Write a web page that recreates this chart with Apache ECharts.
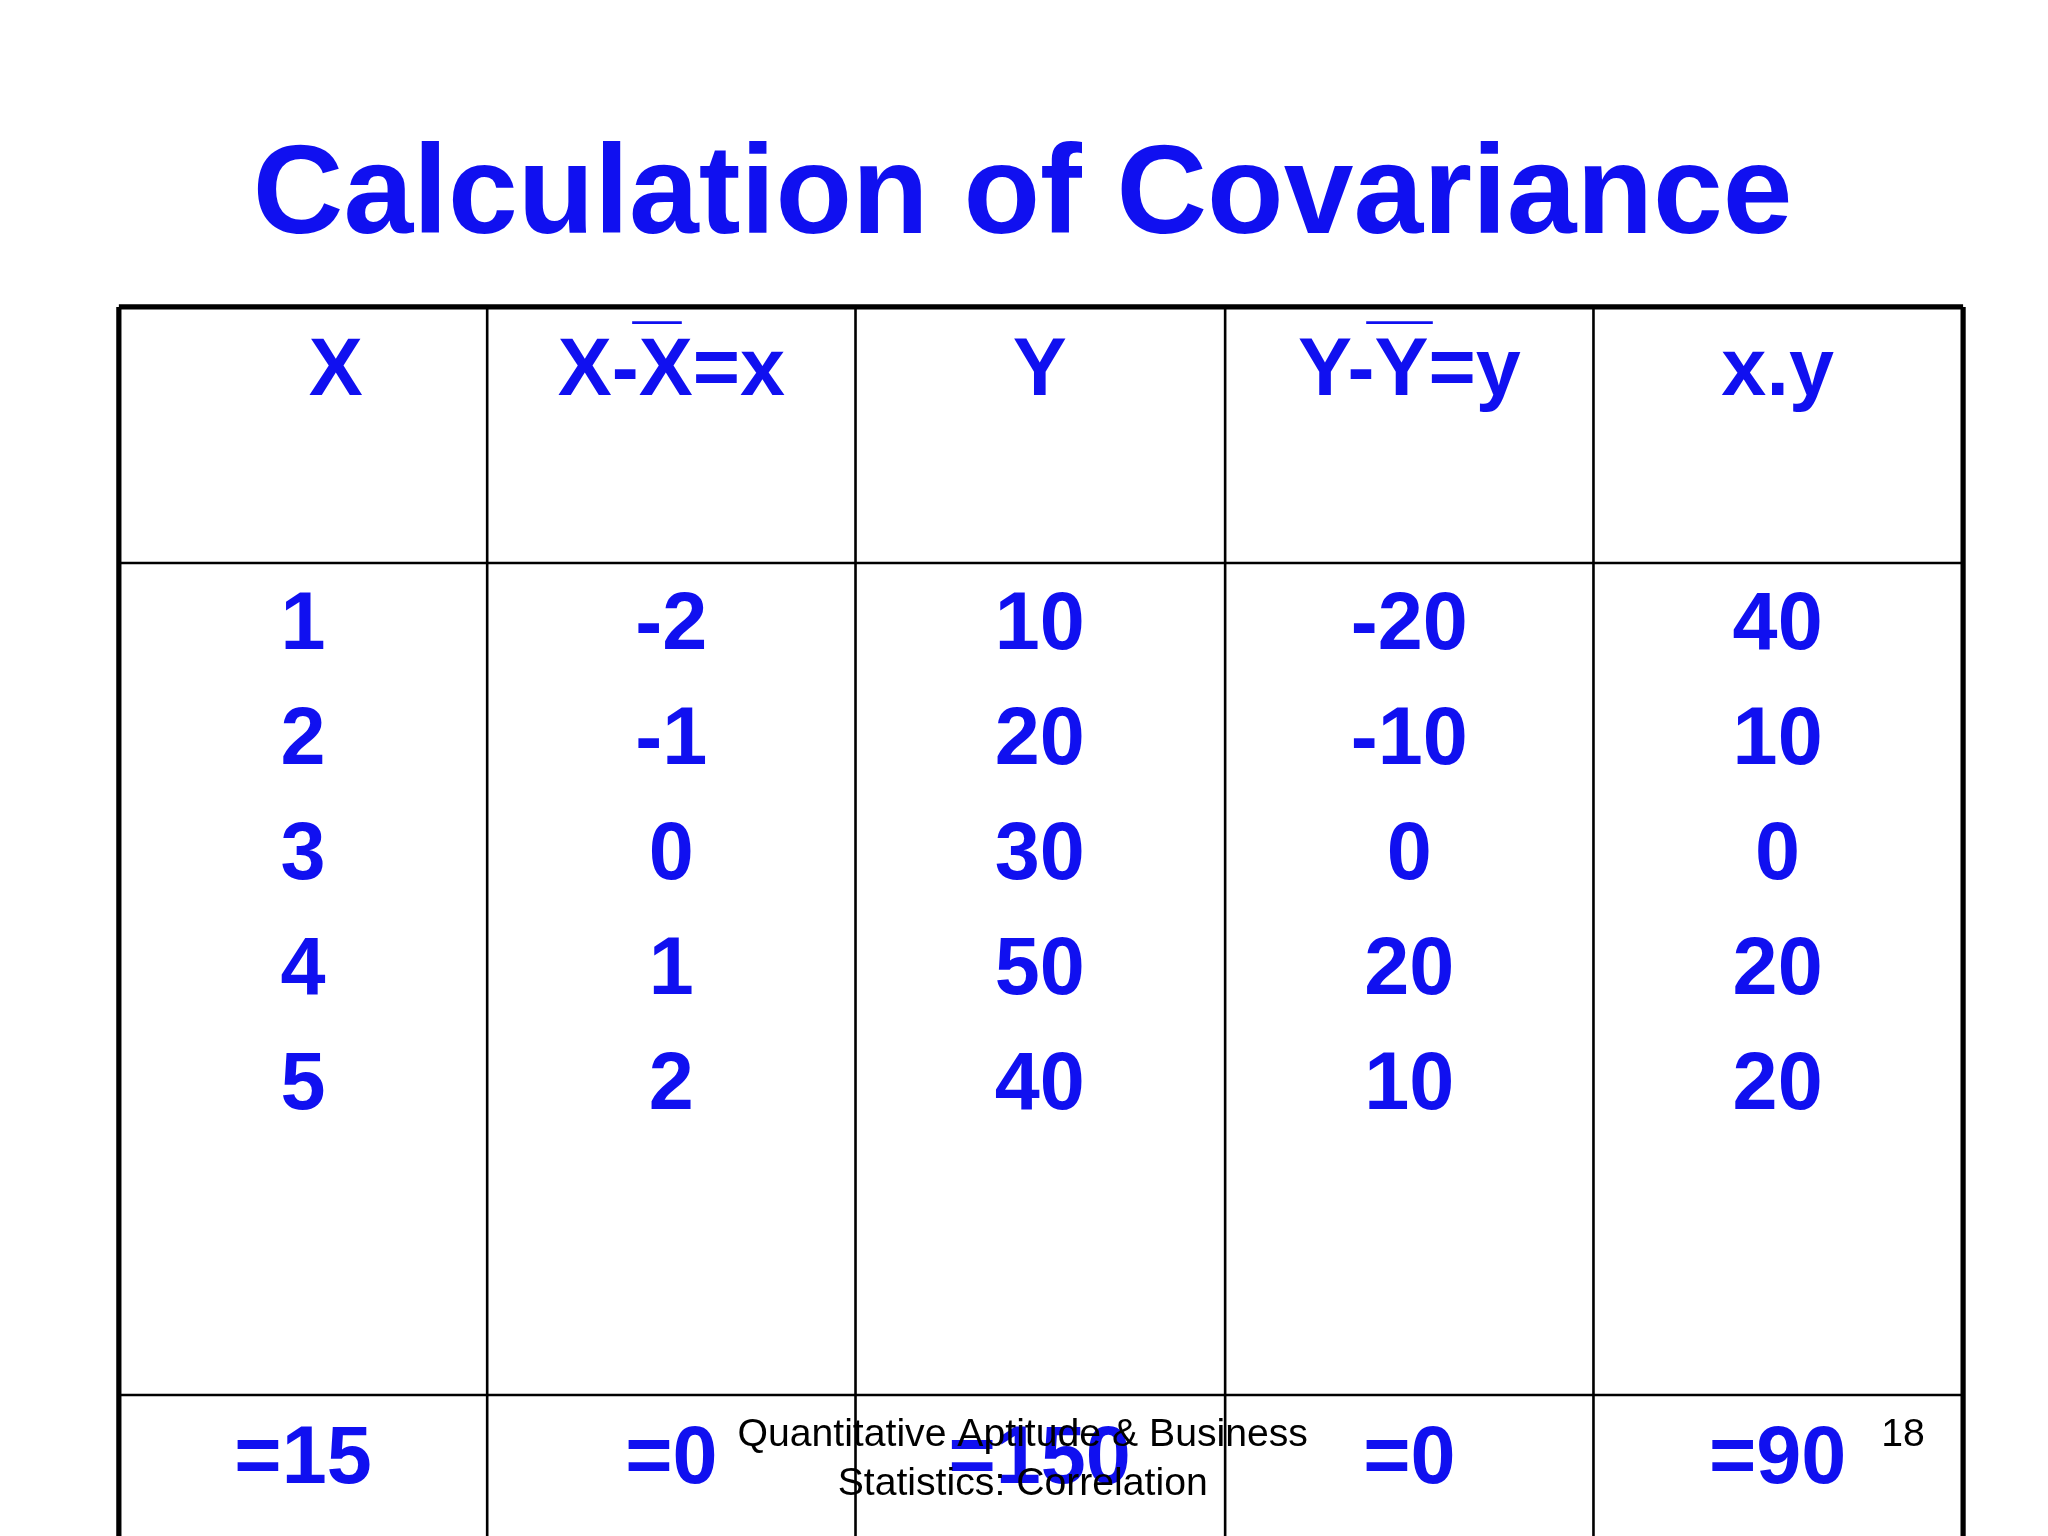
<!DOCTYPE html>
<html><head><meta charset="utf-8">
<script src="https://cdn.jsdelivr.net/npm/echarts@6/dist/echarts.min.js"></script>
<style>html,body{margin:0;background:#fff}#c{width:2048px;height:1536px}</style>
</head><body><div id="c"></div>
<script>
const headers = ['X', 'X-X=x', 'Y', 'Y-Y=y', 'x.y'];
const colX = [1, 2, 3, 4, 5];
const colDx = [-2, -1, 0, 1, 2];
const colY = [10, 20, 30, 50, 40];
const colDy = [-20, -10, 0, 20, 10];
const colXY = [40, 10, 0, 20, 20];
const totals = ['=15', '=0', '=150', '=0', '=90'];

const S = 2048 / 1568;
const blue = '#1010f0';
const font = '"Liberation Sans", Arial, sans-serif';
const colLines = [91, 373, 655, 938, 1220, 1503];
const centers = [232, 514, 796, 1079, 1361];
const rowY = [480, 568, 656, 744, 832];

const g = [];
function txt(x, y, s, size, color, weight) {
  g.push({ type: 'text', x: x * S, y: y * S, style: {
    text: String(s), fill: color, font: `${weight} ${size * S}px ${font}`,
    textAlign: 'center', textVerticalAlign: 'middle' } });
}
function line(x1, y1, x2, y2, w, c) {
  g.push({ type: 'line', shape: { x1: x1 * S, y1: y1 * S, x2: x2 * S, y2: y2 * S },
    style: { stroke: c || '#000', lineWidth: w * S } });
}

txt(783, 152, 'Calculation of Covariance', 96, blue, 'bold');

// grid
line(91, 235, 1503, 235, 4);
line(91, 235, 91, 1176, 4);
line(1503, 235, 1503, 1176, 4);
colLines.slice(1, -1).forEach(x => line(x, 235, x, 1176, 2));
line(91, 431, 1503, 431, 2);
line(91, 1068, 1503, 1068, 2);

const hx = [257, 514, 796, 1079, 1361];
headers.forEach((h, i) => txt(hx[i], 285, h, 62, blue, 'bold'));
line(484, 247, 522, 247, 2, blue);
line(1046, 247, 1097, 247, 2, blue);

[colX, colDx, colY, colDy, colXY].forEach((col, i) =>
  col.forEach((v, r) => txt(centers[i], rowY[r], v, 62, blue, 'bold')));
totals.forEach((t, i) => txt(centers[i], 1118, t, 62, blue, 'bold'));

txt(783, 1099, 'Quantitative Aptitude & Business', 30, '#000', 'normal');
txt(783, 1136, 'Statistics: Correlation', 30, '#000', 'normal');
txt(1457, 1099, '18', 30, '#000', 'normal');

const chart = echarts.init(document.getElementById('c'));
chart.setOption({ backgroundColor: '#fff', graphic: { elements: g } });
</script></body></html>
